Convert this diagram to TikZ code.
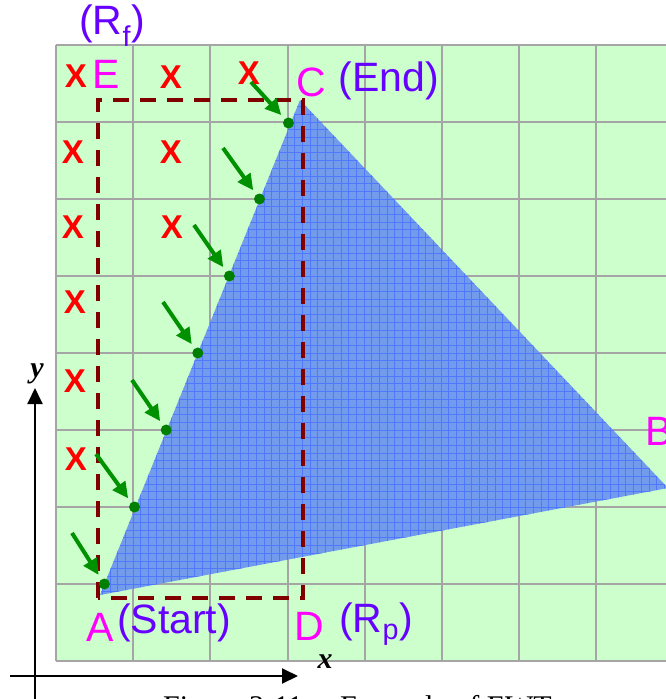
\documentclass[tikz,border=0pt]{standalone}
\usepackage{fontspec}
\setmainfont{Liberation Sans}
\newfontfamily\tmsfont{Liberation Serif}
\usetikzlibrary{arrows.meta}
\definecolor{gridgreen}{RGB}{204,255,204}
\definecolor{gridline}{RGB}{165,165,165}
\definecolor{mag}{RGB}{255,0,255}
\definecolor{purp}{RGB}{102,0,255}
\definecolor{darkred}{RGB}{128,0,0}
\definecolor{arrowgreen}{RGB}{0,145,0}
\definecolor{dotgreen}{RGB}{0,128,0}
\definecolor{tribg}{RGB}{115,155,235}
\definecolor{triline}{RGB}{80,120,255}
\tikzset{
  lbl/.style={inner sep=0pt, font=\fontsize{41}{43}\selectfont},
  ptlabel/.style={lbl, text=mag},
  notelabel/.style={lbl, text=purp},
  xmark/.style={inner sep=0pt, text=red, font=\fontsize{33}{35}\selectfont\bfseries},
  dot/.style={circle, fill=dotgreen, inner sep=0pt, minimum size=11pt},
  garrow/.style={arrowgreen, line width=4pt, -{Triangle[length=16pt,width=15pt]}, shorten >=5pt},
  axis/.style={black, line width=2pt, -{Triangle[length=16pt,width=15pt]}},
  axislbl/.style={inner sep=0pt, font=\tmsfont\bfseries\itshape\fontsize{30}{32}\selectfont},
  region/.style={darkred, line width=4.5pt, dash pattern=on 16pt off 11pt}
}
\begin{document}
\begin{tikzpicture}[x=1pt,y=-1pt]
\useasboundingbox (0,0) rectangle (666,699);
% background grid
\fill[gridgreen] (56,45) rectangle (690,661);
\foreach \gx in {56,133,210,288,365,442,519,596} {
  \draw[gridline, line width=1.5pt] (\gx,45) -- (\gx,661);
}
\foreach \gy in {45,122,199,276,353,430,507,584,661} {
  \draw[gridline, line width=1.5pt] (56,\gy) -- (690,\gy);
}
% triangle
\coordinate (A) at (100,595);
\coordinate (C) at (300,100);
\coordinate (B) at (668,488);
\fill[tribg] (A) -- (B) -- (C) -- cycle;
\begin{scope}
  \clip (A) -- (B) -- (C) -- cycle;
  \foreach \i in {0,...,82} {
    \draw[triline, line width=0.7pt] (56+\i*7.7,45) -- (56+\i*7.7,661);
  }
  \foreach \i in {0,...,80} {
    \draw[triline, line width=0.7pt] (56,45+\i*7.7) -- (690,45+\i*7.7);
  }
\end{scope}
% dashed region
\draw[region] (98,598) -- (98,100) -- (303,100) -- (303,598) -- cycle;
% dots on edge AC
\node[dot] (d1) at (104.4,584) {};
\node[dot] (d2) at (134.5,507) {};
\node[dot] (d3) at (166.2,430) {};
\node[dot] (d4) at (197.8,353) {};
\node[dot] (d5) at (229.4,276) {};
\node[dot] (d6) at (259.5,199) {};
\node[dot] (d7) at (288.5,123) {};
% arrow tails
\coordinate (t1) at (72,533);
\coordinate (t2) at (96,454);
\coordinate (t3) at (132,380);
\coordinate (t4) at (163,302);
\coordinate (t5) at (194,225);
\coordinate (t6) at (223,148);
\coordinate (t7) at (251,82);
\foreach \k in {1,...,7} {
  \draw[garrow] (t\k) -- (d\k);
}
% X marks
\node[xmark] (x11) at (76,76) {X};
\node[xmark] (x12) at (171,77) {X};
\node[xmark] (x13) at (249,73) {X};
\node[xmark] (x21) at (73,152) {X};
\node[xmark] (x22) at (171,152) {X};
\node[xmark] (x31) at (73,227) {X};
\node[xmark] (x32) at (172,227) {X};
\node[xmark] (x41) at (75,302) {X};
\node[xmark] (x51) at (75,381) {X};
\node[xmark] (x61) at (76,459) {X};
% labels
\node[ptlabel] (E) at (106,74) {E};
\node[ptlabel] (Clbl) at (311,82) {C};
\node[notelabel] (End) at (389,81) {(End)};
\node[notelabel] (Rf) at (112,26) {(R\textsubscript{f})};
\node[ptlabel] (Albl) at (100,627) {A};
\node[notelabel] (Start) at (174,623) {(Start)};
\node[ptlabel] (D) at (309,626) {D};
\node[notelabel] (Rp) at (376,624) {(R\textsubscript{p})};
\node[ptlabel, anchor=west] (Blbl) at (645,431) {B};
% axes
\coordinate (yo) at (35,710);
\coordinate (ytip) at (35,388);
\coordinate (xo) at (10,676);
\coordinate (xtip) at (298,676);
\draw[axis] (yo) -- (ytip);
\draw[axis] (xo) -- (xtip);
\node[axislbl] (ylbl) at (37,374) {y};
\node[axislbl] (xlbl) at (325,662) {x};
% caption (cut off at the bottom, as in the source)
\node[anchor=base west, inner sep=0pt, font=\tmsfont\fontsize{30}{32}\selectfont] (cap1) at (163,716) {Figure 3-11};
\node[anchor=base west, inner sep=0pt, font=\tmsfont\fontsize{30}{32}\selectfont] (cap2) at (340,716) {Example of EWT};
\end{tikzpicture}
\end{document}
